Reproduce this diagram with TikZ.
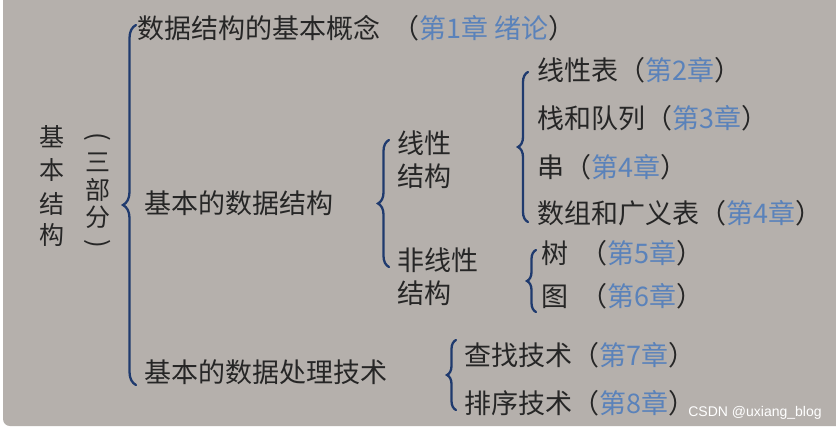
\documentclass[tikz,border=0pt]{standalone}
\usepackage{fontspec}
\setmainfont{Noto Sans CJK SC}
\newfontfamily\wmfont{Liberation Sans}
\usetikzlibrary{decorations.pathreplacing}
\definecolor{bgc}{HTML}{B5B0AC}
\definecolor{inkc}{HTML}{262626}
\definecolor{chapc}{HTML}{5A82BA}
\definecolor{bracec}{HTML}{1F3A6E}
\newcommand\chp[1]{\textcolor{chapc}{#1}}
\tikzset{
  txt/.style={anchor=west, inner sep=0pt, text=inkc, font=\fontsize{27}{33}\selectfont},
  vch/.style={inner sep=0pt, text=inkc, font=\fontsize{25}{25}\selectfont},
  vpar/.style={inner sep=0pt, text=inkc, font=\fontsize{26}{26}\selectfont},
  bracepath/.style={draw=bracec, line width=2.3pt, line cap=round, decorate,
    decoration={brace, amplitude=#1}},
}
\begin{document}
\begin{tikzpicture}[x=1pt, y=-1pt]
\useasboundingbox (0,0) rectangle (836,429);
\fill[white] (0,0) rectangle (836,429);
\fill[bgc, rounded corners=7pt] (3,-10) rectangle (846,426);
% left vertical text
\node[vch] (r1) at (52,137) {基};
\node[vch] (r2) at (52,170) {本};
\node[vch] (r3) at (52,204) {结};
\node[vch] (r4) at (52,235) {构};
% vertical parenthesised text
\node[vpar, rotate=-90] (p1) at (98,137) {(};
\node[vch] (p2) at (98,162) {三};
\node[vch] (p3) at (98,190) {部};
\node[vch] (p4) at (98,217) {分};
\node[vpar, rotate=-90] (p5) at (98,244) {)};
% level 1
\node[txt] (t1) at (137,28) {数据结构的基本概念\hspace{0.45em}（\chp{第1章 绪论}）};
\node[txt] (t2) at (144,203) {基本的数据结构};
\node[txt] (t3) at (144,372) {基本的数据处理技术};
% level 2
\node[txt, align=left] (lin) at (397,160) {线性\\结构};
\node[txt, align=left] (nonlin) at (397,277) {非线性\\结构};
% linear items
\node[txt] (a1) at (537,70) {线性表（\chp{第2章}）};
\node[txt] (a2) at (537,118) {栈和队列（\chp{第3章}）};
\node[txt] (a3) at (537,167) {串（\chp{第4章}）};
\node[txt] (a4) at (537,213) {数组和广义表（\chp{第4章}）};
% nonlinear items
\node[txt] (b1) at (541,253) {树\hspace{0.45em}（\chp{第5章}）};
\node[txt] (b2) at (541,296) {图\hspace{0.45em}（\chp{第6章}）};
% processing items
\node[txt] (c1) at (464,355) {查找技术（\chp{第7章}）};
\node[txt] (c2) at (464,403) {排序技术（\chp{第8章}）};
% brace end points
\coordinate (B1s) at (136,385); \coordinate (B1e) at (136,25);
\coordinate (B2s) at (389,267); \coordinate (B2e) at (389,140);
\coordinate (B3s) at (528,222); \coordinate (B3e) at (528,72);
\coordinate (B4s) at (536,312); \coordinate (B4e) at (536,250);
\coordinate (B5s) at (456,410); \coordinate (B5e) at (456,340);
\draw[bracepath=13pt] (B1s) -- (B1e);
\draw[bracepath=11pt] (B2s) -- (B2e);
\draw[bracepath=10pt] (B3s) -- (B3e);
\draw[bracepath=9pt] (B4s) -- (B4e);
\draw[bracepath=9pt] (B5s) -- (B5e);
% watermark
\node[inner sep=0pt, text=white, font=\wmfont\fontsize{14}{14}\selectfont] (wm) at (755,413) {CSDN @uxiang\_blog};
\end{tikzpicture}
\end{document}
